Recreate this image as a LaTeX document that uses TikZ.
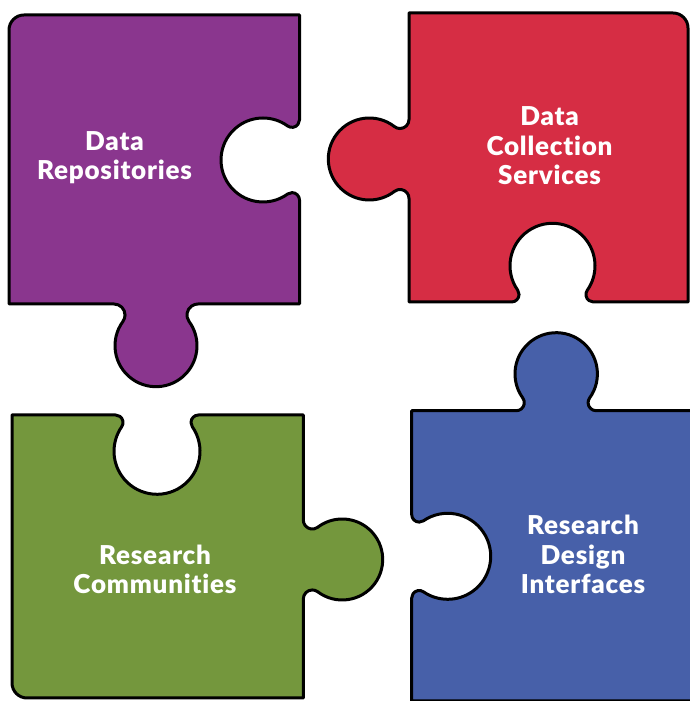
\documentclass[tikz,border=0pt]{standalone}
\usepackage{fontspec}
\setmainfont{Lato}[BoldFont={Lato Black},
  BoldFeatures={LetterSpace=3, Ligatures={NoCommon, NoRare, NoDiscretionary}}]

\definecolor{pzpurple}{HTML}{8A368E}
\definecolor{pzred}{HTML}{D62D44}
\definecolor{pzgreen}{HTML}{74973D}
\definecolor{pzblue}{HTML}{4760A9}

% One knob or socket on a straight edge of a jigsaw piece.
% #1 macro that receives the path segment
% #2,#3 foot of the circle centre on the edge
% #4 direction in which the outline runs along the edge (degrees)
% #5 side of the centre: 1 = left of that direction, -1 = right
% #6 distance of the centre from the edge, #7 circle radius, #8 fillet radius
\newcommand\pzknob[8]{%
  \pgfmathsetmacro\pzh{sqrt((#7+#8)^2-(#6-#8)^2)}%
  \pgfmathsetmacro\pzpsi{atan2(#6-#8,\pzh)}%
  \pgfmathsetmacro\pzex{#2-\pzh*cos(#4)}%
  \pgfmathsetmacro\pzey{#3-\pzh*sin(#4)}%
  \pgfmathsetmacro\pzsa{#4-90*(#5)}%
  \pgfmathsetmacro\pzda{(#5)*(90+\pzpsi)}%
  \pgfmathsetmacro\pzsb{#4+(#5)*\pzpsi+180}%
  \pgfmathsetmacro\pzdb{-(#5)*(180+2*\pzpsi)}%
  \pgfmathsetmacro\pzsc{#4+180-(#5)*\pzpsi}%
  \xdef#1{-- (\pzex,\pzey)
    arc[start angle=\pzsa, delta angle=\pzda, radius=#8pt]
    arc[start angle=\pzsb, delta angle=\pzdb, radius=#7pt]
    arc[start angle=\pzsc, delta angle=\pzda, radius=#8pt]}%
}

\tikzset{
  piece/.style={draw=black, line width=3pt, line join=round},
  caption/.style={text=white, align=center, inner sep=0pt,
    font=\bfseries\fontsize{26}{29.5}\selectfont},
}

\begin{document}
\begin{tikzpicture}[x=1pt, y=1pt]
\useasboundingbox (0,0) rectangle (689,701);

% Data Repositories (top left)
\pzknob\pzA{156}{397}{0}{-1}{41.7}{41}{11}
\pzknob\pzB{299.5}{541}{90}{1}{36.5}{42}{7.5}
\edef\pzrun{\noexpand\draw[piece, fill=pzpurple] (9,671) -- (9,397) \pzA
  -- (299.5,397) \pzB -- (299.5,686) -- (24,686)
  arc[start angle=90, delta angle=90, radius=15pt] -- cycle;}
\pzrun

% Data Collection Services (top right)
\pzknob\pzC{409}{542}{270}{-1}{39.7}{41}{9}
\pzknob\pzD{552.5}{399}{0}{1}{36.2}{42.5}{7.5}
\edef\pzrun{\noexpand\draw[piece, fill=pzred] (409,688) \pzC
  -- (409,399) \pzD -- (688,399) -- (688,673)
  arc[start angle=0, delta angle=90, radius=15pt] -- cycle;}
\pzrun

% Research Communities (bottom left)
\pzknob\pzE{303.3}{141.5}{90}{-1}{38.9}{40.5}{9}
\pzknob\pzF{157}{286}{180}{1}{36.3}{43}{7.5}
\edef\pzrun{\noexpand\draw[piece, fill=pzgreen] (12,286) -- (12,18)
  arc[start angle=180, delta angle=90, radius=15pt] -- (303.3,3) \pzE
  -- (303.3,286) \pzF -- cycle;}
\pzrun

% Research Design Interfaces (bottom right)
\pzknob\pzG{556.2}{290.3}{180}{-1}{36.8}{41.2}{8}
\pzknob\pzH{411.7}{144.7}{270}{1}{36}{43}{7.5}
\edef\pzrun{\noexpand\draw[piece, fill=pzblue] (411.7,290.3) \pzH
  -- (411.7,0) -- (693,0) -- (693,290.3) \pzG -- cycle;}
\pzrun

\node[caption] (repo) at (114.5,543.5) {Data\\Repositories};
\node[caption] (collect) at (549.5,555) {Data\\Collection\\Services};
\node[caption] (comm) at (155,131.5) {Research\\Communities};
\node[caption] (design) at (583,146.5) {Research\\Design\\Interfaces};
\end{tikzpicture}
\end{document}
